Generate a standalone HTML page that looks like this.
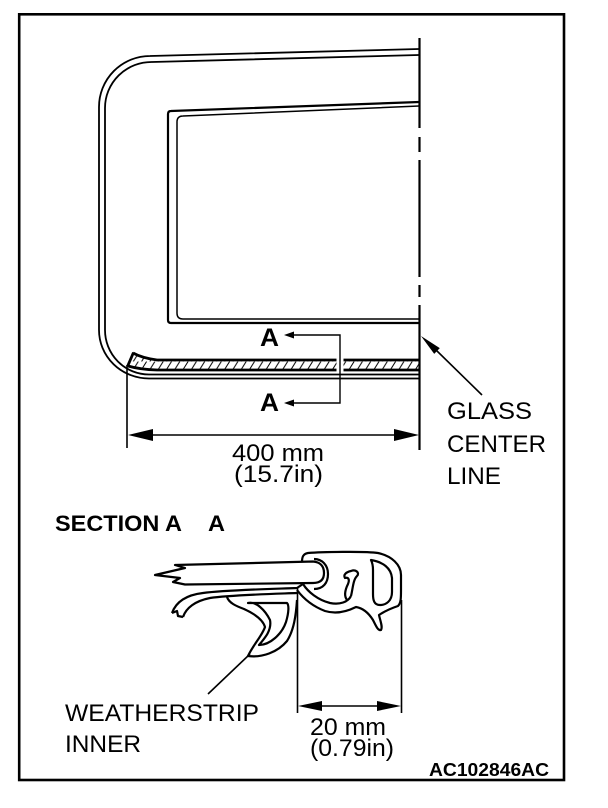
<!DOCTYPE html>
<html><head><meta charset="utf-8"><style>
html,body{margin:0;padding:0;background:#fff;width:608px;height:808px;overflow:hidden;}
svg{display:block;}
text{font-family:"Liberation Sans",Arial,sans-serif;fill:#000;}
</style></head><body>
<svg width="608" height="808" viewBox="0 0 608 808" xmlns="http://www.w3.org/2000/svg">
<defs>
<pattern id="h" patternUnits="userSpaceOnUse" width="8.3" height="8" x="0" y="361.5">
 <line x1="0.5" y1="8" x2="5.5" y2="0" stroke="#000" stroke-width="1"/>
</pattern>
</defs>

<!-- border -->
<rect x="19.2" y="14.3" width="544.8" height="765.7" fill="none" stroke="#000" stroke-width="2.6"/>

<!-- door frame double lines -->
<path d="M419 49 L150 56 A51 51 0 0 0 99 107 L99 330 A50 48.5 0 0 0 149 378.5 L419 378.5" fill="none" stroke="#000" stroke-width="1.8"/>
<path d="M419 55 L152 62 A46.5 46 0 0 0 105 108 L105 330 A44 44.5 0 0 0 149 374.5 L419 374.5" fill="none" stroke="#000" stroke-width="1.8"/>

<!-- window opening -->
<path d="M419 102 L171 111 Q168 111 168 114 L168 320 Q168 323 171 323 L419 323" fill="none" stroke="#000" stroke-width="2.2"/>
<path d="M419 106 L183 116 Q177 116 177 122 L177 313 Q177 319 183 319 L419 319" fill="none" stroke="#000" stroke-width="1.5"/>

<!-- hatched strip -->
<path d="M133 353 Q142 358 157 360 L419 360 L419 370 L157 370 Q140 369.5 128 366 Z" fill="url(#h)" stroke="none"/>
<path d="M133 353 Q142 358 157 360 L419 360" fill="none" stroke="#000" stroke-width="2.8"/>
<path d="M128 366 Q140 369.5 157 370 L419 370" fill="none" stroke="#000" stroke-width="2.8"/>
<path d="M133.5 352.5 L127.5 366.5" fill="none" stroke="#000" stroke-width="2.8"/>
<rect x="336.5" y="357.5" width="7" height="15" fill="#fff"/>

<!-- center line -->
<path d="M419.5 38 V128 M419.5 137 V152 M419.5 160 V277 M419.5 285 V297 M419.5 305 V450" fill="none" stroke="#000" stroke-width="2.2"/>

<!-- section A-A markers -->
<path d="M292 335 H340 V403 H292" fill="none" stroke="#000" stroke-width="1.4"/>
<polygon points="284,335 294,331.5 294,338.5" fill="#000"/>
<polygon points="284,403 294,399.5 294,406.5" fill="#000"/>
<text x="260" y="346" font-size="25" font-weight="bold" textLength="19" lengthAdjust="spacingAndGlyphs">A</text>
<text x="260" y="411" font-size="25" font-weight="bold" textLength="19" lengthAdjust="spacingAndGlyphs">A</text>

<!-- glass center line leader -->
<line x1="436" y1="350" x2="482" y2="395" stroke="#000" stroke-width="1.6"/>
<polygon points="421,336 434.2,353.9 439.8,348.1" fill="#000"/>
<text x="447" y="419" font-size="24" textLength="85" lengthAdjust="spacingAndGlyphs">GLASS</text>
<text x="447" y="452" font-size="24" textLength="99" lengthAdjust="spacingAndGlyphs">CENTER</text>
<text x="447" y="484" font-size="24" textLength="54" lengthAdjust="spacingAndGlyphs">LINE</text>

<!-- 400 mm dimension -->
<line x1="127" y1="365" x2="127" y2="448" stroke="#000" stroke-width="1.6"/>
<line x1="140" y1="435" x2="405" y2="435" stroke="#000" stroke-width="1.4"/>
<polygon points="128,435 153,429 153,441" fill="#000"/>
<polygon points="419,435 394,429 394,441" fill="#000"/>
<text x="232" y="461" font-size="24" textLength="92" lengthAdjust="spacingAndGlyphs">400 mm</text>
<text x="234" y="482" font-size="24" textLength="89" lengthAdjust="spacingAndGlyphs">(15.7in)</text>

<!-- section title -->
<text x="55" y="531" font-size="22" font-weight="bold" textLength="127" lengthAdjust="spacingAndGlyphs">SECTION A</text>
<text x="208" y="531" font-size="22" font-weight="bold" textLength="17" lengthAdjust="spacingAndGlyphs">A</text>

<!-- cross section -->
<g fill="none" stroke="#000" stroke-width="2.2" stroke-linejoin="round">
 <!-- glass -->
 <path d="M175 565 L313 561.5 C320 562 324 566 324 573 C324 580 320 583 313 583 L185 584.5 L173 582 L180 578 L155 575 L185 568 Z" fill="#fff"/>
 <!-- pocket around glass end -->
 <path d="M314 559 C322 559 328 565 328 574 C328 583 323 589 314 589"/>
 <!-- weatherstrip outer body -->
 <path d="M297 590 C303 598 312 606 325 611 C338 615 350 610 356 607 C362 608 368 612 373 620 C376 626 378 631 381 630 C383 627 380 620 379 615 C385 611 392 608 398 606 C401 603 401 598 401 590 L401 575 C401 565 392 556 378 553 C365 551 320 552 308 553 C303 554 302 557 302 562"/>
 <!-- D hollow -->
 <path d="M371 560 C383 562 391 568 392 578 L392 592 C392 601 386 605 380 605 C374 605 373 600 373 594 L373 570 C373 565 372 562 371 560 Z"/>
 <!-- channel line -->
 <path d="M303 584 C308 592 318 600 330 603 C340 605 348 602 351 596"/>
 <!-- hook -->
 <path d="M351 596 C353 588 353 580 357 576 C360 573 356 569 351 571 C346 572 343 575 345 578 C348 577 350 579 348 584 C345 590 344 596 347 600"/>
 <!-- lip -->
 <path d="M172 613 C176 602 186 595 203 593 C225 590 270 589 297 588 L303 584"/>
 <path d="M183 617 C186 608 195 601 210 598 C230 595 270 594 297 593"/>
 <path d="M172 613 L177 611 L178 616 L183 617"/>
 <!-- flap -->
 <path d="M227 597 C229 603 236 606 244 609 C255 614 263 620 265 627 C262 636 253 645 248 656 C262 658 278 652 287 641 C294 630 296 615 297 600"/>
 <path d="M248 603 C256 601 265 610 270 620 C272 630 265 638 259 645 C270 645 282 634 286 622 C289 612 289 605 287 603 Z"/>
</g>

<!-- 20 mm dimension -->
<line x1="297.5" y1="588" x2="297.5" y2="713" stroke="#000" stroke-width="1.6"/>
<line x1="401.5" y1="600" x2="401.5" y2="713" stroke="#000" stroke-width="1.6"/>
<line x1="310" y1="706" x2="390" y2="706" stroke="#000" stroke-width="1.4"/>
<polygon points="298,706 322,701 322,711" fill="#000"/>
<polygon points="401,706 377,701 377,711" fill="#000"/>
<text x="310" y="735" font-size="24" textLength="76" lengthAdjust="spacingAndGlyphs">20 mm</text>
<text x="310" y="756" font-size="24" textLength="84" lengthAdjust="spacingAndGlyphs">(0.79in)</text>

<!-- weatherstrip leader -->
<line x1="208" y1="694" x2="250" y2="654" stroke="#000" stroke-width="1.6"/>
<text x="65" y="721" font-size="24" textLength="194" lengthAdjust="spacingAndGlyphs">WEATHERSTRIP</text>
<text x="65" y="752" font-size="24" textLength="76" lengthAdjust="spacingAndGlyphs">INNER</text>

<!-- id -->
<text x="429" y="776" font-size="18" font-weight="bold" textLength="120" lengthAdjust="spacingAndGlyphs">AC102846AC</text>
</svg>
</body></html>
